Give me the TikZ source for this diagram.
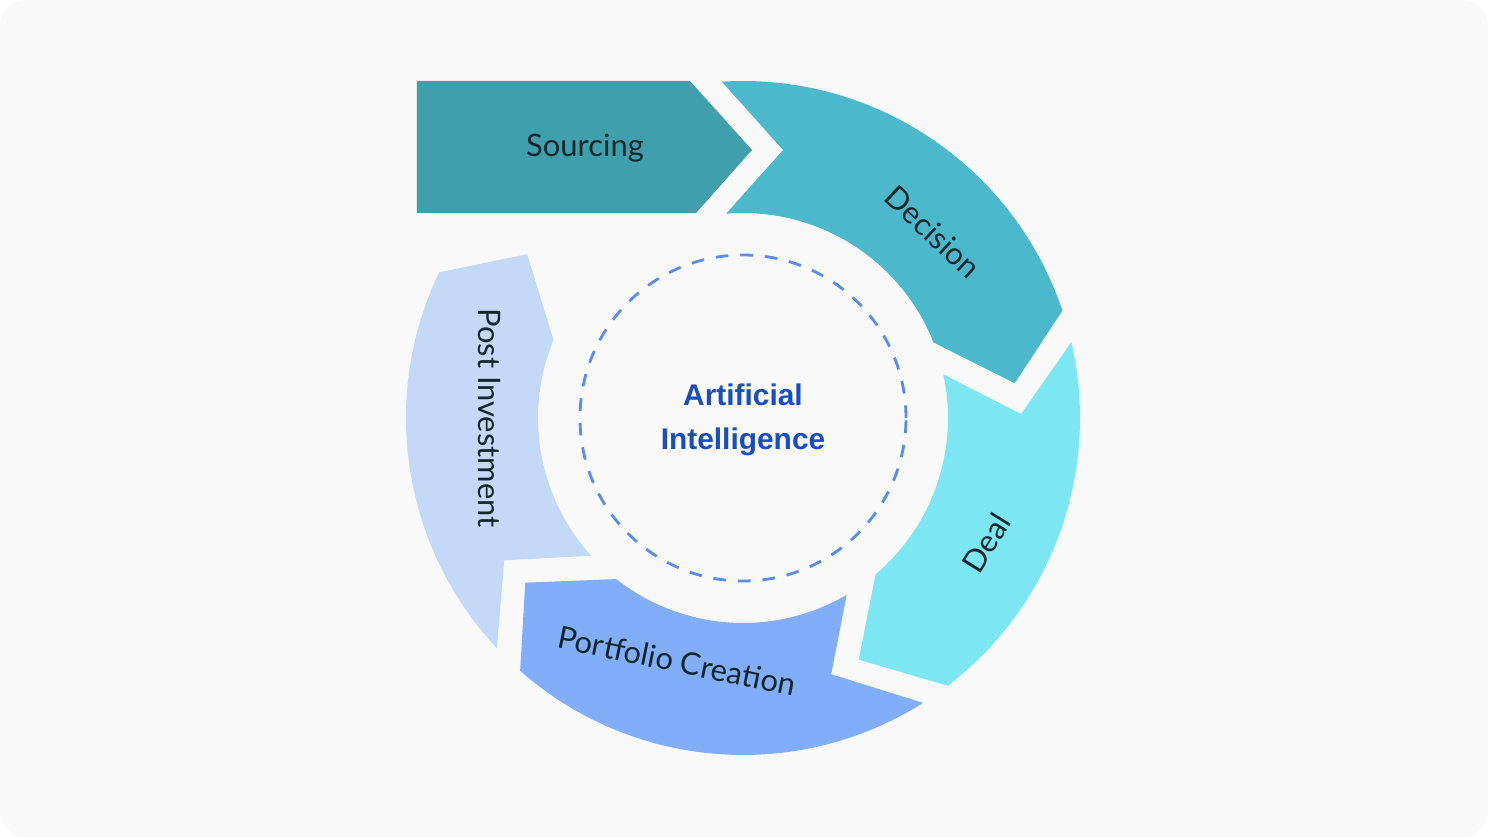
\documentclass[tikz,border=0pt]{standalone}
\usepackage{tikz}
\usepackage{fontspec}
\setmainfont{Lato}
\newfontfamily\aifont{Liberation Sans}
\definecolor{bgcard}{HTML}{F9F9FA}
\definecolor{sourcingteal}{HTML}{3F9FAC}
\definecolor{decisionteal}{HTML}{4BB9CB}
\definecolor{dealcyan}{HTML}{7DE6F3}
\definecolor{portfolioblue}{HTML}{82ADF8}
\definecolor{postblue}{HTML}{C4D8F8}
\definecolor{aiblue}{HTML}{1A4DBF}
\definecolor{dashblue}{HTML}{5A8CEE}
\definecolor{labelink}{HTML}{10282D}
\usetikzlibrary{positioning}

\begin{document}
\begin{tikzpicture}[x=0.01cm,y=0.01cm,
    stagetext/.style={font=\fontsize{8.8}{10}\selectfont,text=labelink},
    aitext/.style={font=\aifont\bfseries\fontsize{8.5}{12.5}\selectfont,text=aiblue,align=center}]
    \useasboundingbox (-743,-419) rectangle (745,418);
    % Card
    \fill[white] (-743,-419) rectangle (745,418);
    \fill[bgcard,rounded corners=0.26cm] (-743,-419) rectangle (745,418);

    % Sourcing chevron
    \fill[sourcingteal] (-326,337) -- (-53,337) -- (9,268) -- (-47,205) -- (-326,205) -- cycle;

    % Ring arrows, clockwise
    \fill[decisionteal] (93.6:337) arc[start angle=93.6,end angle=18.6,radius=337]
      -- (7.3:274) -- (21.6:205) arc[start angle=21.6,end angle=94.7,radius=205]
      -- (81.5:271) -- cycle;
    \fill[dealcyan] (13:337) arc[start angle=13,end angle=-52.6,radius=337]
      -- (-64.4:268) -- (-49.7:205) arc[start angle=-49.7,end angle=12.3,radius=205]
      -- (0.8:278) -- cycle;
    \fill[portfolioblue] (-57.7:337) arc[start angle=-57.7,end angle=-131.4,radius=337]
      -- (-142.9:273) -- (-128.2:205) arc[start angle=-128.2,end angle=-59.6,radius=205]
      -- (-71:271) -- cycle;
    \fill[postblue] (-136.9:337) arc[start angle=-136.9,end angle=-205.6,radius=337]
      -- (-217.2:271) -- (-202.4:205) arc[start angle=-202.4,end angle=-137.8,radius=205]
      -- (-149.2:278) -- cycle;

    % Centre
    \draw[dashblue,line width=0.8pt,dash pattern=on 3.6pt off 3.4pt] (0,0) circle[radius=163];
    \node[aitext] (ai) at (0,-2) {Artificial\\Intelligence};

    % Labels
    \node[stagetext] (sourcing) at (-158,270) {Sourcing};
    \node[stagetext,rotate=-43] (decision) at (44.4:266) {Decision};
    \node[stagetext,rotate=58] (deal) at (243,-125) {Deal};
    \node[stagetext,rotate=-11.5] (portfolio) at (-66,-243) {Portfolio Creation};
    \node[stagetext,rotate=-90] (post) at (-254,0) {Post Investment};
  \end{tikzpicture}
\end{document}
